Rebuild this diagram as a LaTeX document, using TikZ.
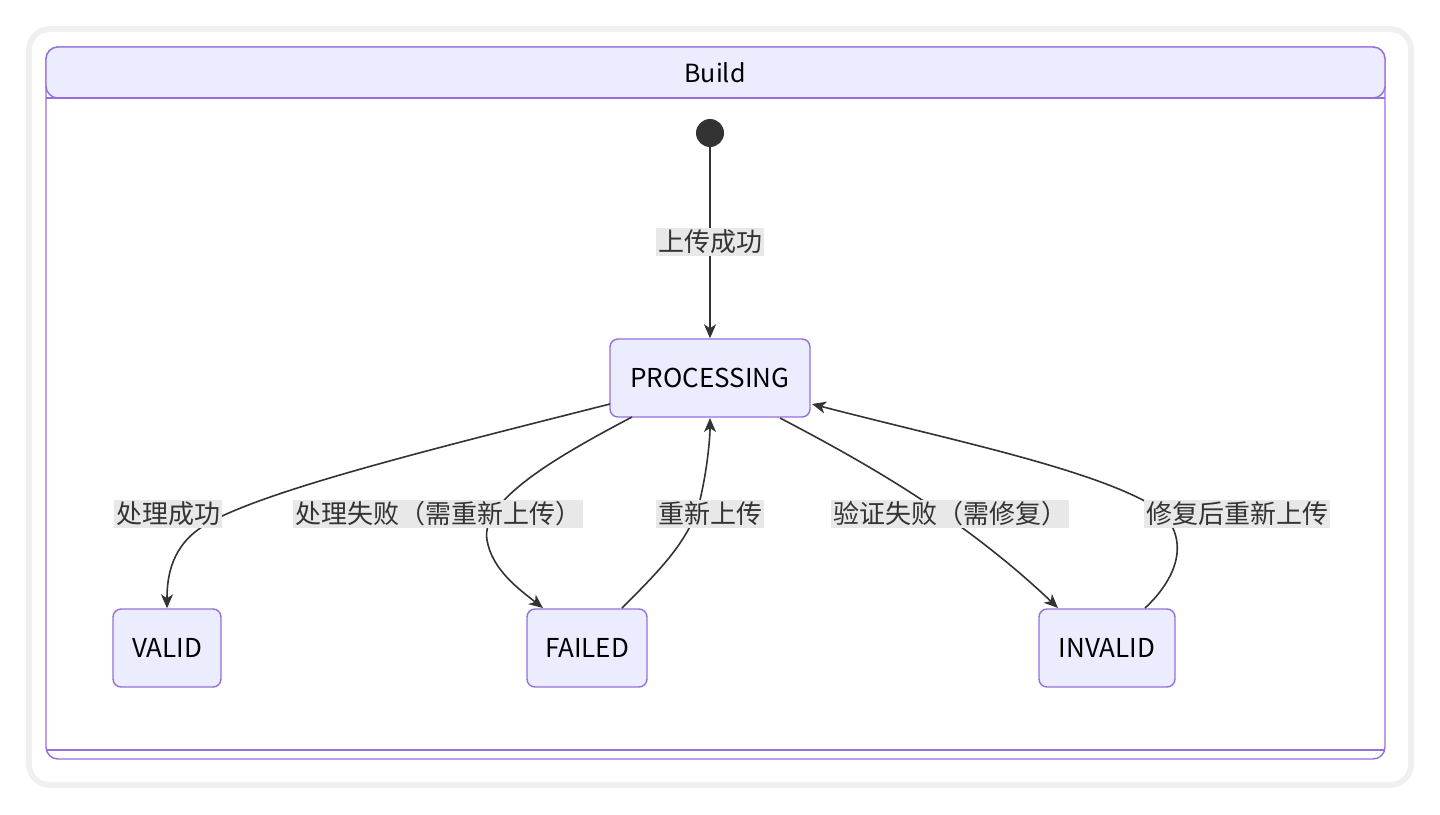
\documentclass[tikz,border=0pt]{standalone}
\usepackage{fontspec}
\setmainfont{Noto Sans CJK SC}
\usetikzlibrary{arrows.meta}
\definecolor{nfill}{HTML}{ECECFF}
\definecolor{nline}{HTML}{9370DB}
\definecolor{lbg}{HTML}{E8E8E8}
\tikzset{
  st/.style={draw=nline,fill=nfill,line width=0.7pt,rounded corners=4pt,minimum height=39pt,inner xsep=8pt,font=\fontsize{13}{15}\selectfont},
  lab/.style={fill=lbg,inner sep=1pt,font=\fontsize{13}{15}\selectfont,text=black!80},
  ed/.style={draw=black!80,line width=0.8pt,-{Stealth[length=7pt,width=6pt,inset=2pt]}},
}
\begin{document}
\begin{tikzpicture}[x=0.5pt,y=-0.5pt]
\useasboundingbox (0,0) rectangle (1440,814);
\fill[black!6,rounded corners=12pt] (26,26) rectangle (1414,788);
\fill[white,rounded corners=9pt] (32,32) rectangle (1408,782);
\draw[nline,line width=0.7pt,rounded corners=6pt] (46,47) rectangle (1385,759);
\draw[nline,fill=nfill,line width=0.7pt,rounded corners=6pt] (46,98) -- (46,47) -- (1385,47) -- (1385,98) -- cycle;
\draw[nline,line width=0.7pt] (46,98) -- (1385,98);
\draw[nline,line width=0.7pt] (46,750) -- (1385,750);
\node[font=\fontsize{12.5}{15}\selectfont] (title) at (715,73) {Build};
\node[circle,fill=black!80,minimum size=14pt,inner sep=0pt] (s) at (710,133) {};
\node[st,minimum width=100pt] (P) at (710,378) {PROCESSING};
\node[st,minimum width=54pt] (V) at (167,648) {VALID};
\node[st,minimum width=60pt] (F) at (587,648) {FAILED};
\node[st,minimum width=68pt] (I) at (1107,648) {INVALID};
\coordinate (pv) at (610,404);
\coordinate (pf) at (632,417);
\coordinate (fp) at (710,418);
\coordinate (pi) at (780,418);
\coordinate (ip) at (812,404);
\coordinate (fo) at (622,608);
\coordinate (io) at (1145,608);
\draw[ed] (s) -- (P);
\draw[ed] (pv) .. controls (420,452) and (260,492) .. (205,525) .. controls (172,545) and (167,575) .. (V.north);
\draw[ed] (pf) .. controls (560,455) and (480,500) .. (487,540) .. controls (492,570) and (520,590) .. (543,608);
\draw[ed] (fo) .. controls (660,570) and (690,540) .. (700,500) .. controls (707,470) and (710,440) .. (fp);
\draw[ed] (pi) .. controls (860,460) and (960,515) .. (1058,608);
\draw[ed] (io) .. controls (1170,585) and (1195,545) .. (1160,510) .. controls (1100,470) and (950,440) .. (ip);
\node[lab] (l0) at (710,242) {上传成功};
\node[lab] (l1) at (168,514) {处理成功};
\node[lab] (l2) at (438,514) {处理失败（需重新上传）};
\node[lab] (l3) at (710,514) {重新上传};
\node[lab] (l4) at (950,514) {验证失败（需修复）};
\node[lab] (l5) at (1237,514) {修复后重新上传};
\end{tikzpicture}
\end{document}
